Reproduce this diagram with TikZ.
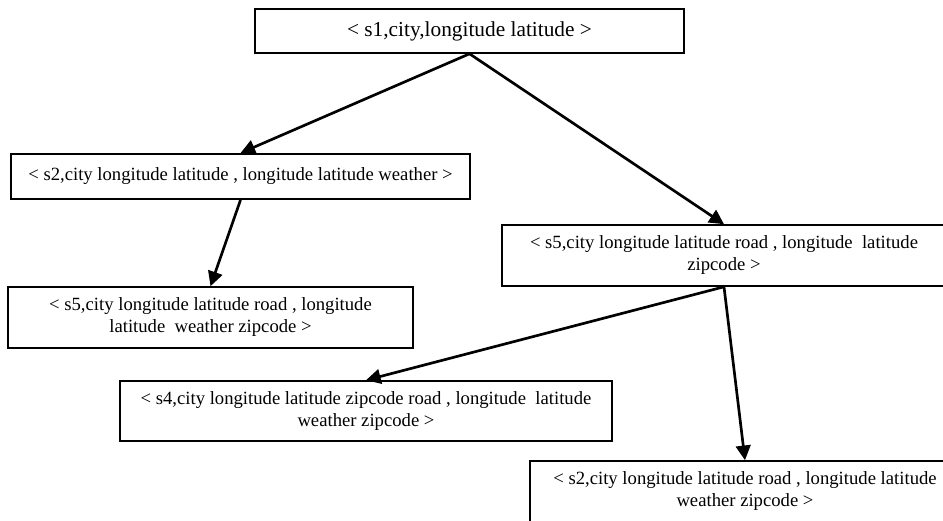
\documentclass[tikz,border=0pt]{standalone}
\usepackage{fontspec}
\setmainfont{Liberation Serif}
\usetikzlibrary{arrows.meta}

\begin{document}
\begin{tikzpicture}[x=0.75pt,y=-0.75pt,->,>={Triangle[length=11pt,width=11pt]},line width=2pt,
            box/.style={draw,line width=1.2pt,rectangle,align=center,font=\fontsize{14}{16.5}\selectfont,inner sep=0pt}]
            \useasboundingbox (0,0) rectangle (943,521);
            \clip (0,0) rectangle (943,521);

            \node[box, minimum width=321.75pt, minimum height=33pt, font=\fontsize{16}{18}\selectfont] (0) at (469.5,31) {< s1,city,longitude latitude >};
            \node[box, minimum width=344pt, minimum height=34pt] (1) at (240.5,176.5) {< s2,city longitude latitude , longitude latitude weather >};
            \node[box, minimum width=333pt, minimum height=45.75pt] (2) at (724,255.5) {< s5,city longitude latitude road , longitude\ \ latitude\\zipcode >};
            \node[box, minimum width=303.75pt, minimum height=45.75pt] (3) at (210.5,317.5) {< s5,city longitude latitude road , longitude\\latitude\ \ weather zipcode >};
            \node[box, minimum width=369pt, minimum height=45pt] (4) at (366,411) {< s4,city longitude latitude zipcode road , longitude\ \ latitude\\weather zipcode >};
            \node[box, minimum width=322.5pt, minimum height=45.75pt] (5) at (745,491.5) {< s2,city longitude latitude road , longitude latitude\\weather zipcode >};

            \path
            (0.south) edge (1.north)
                      edge (2.north)
            (1.south) edge (3.north)
            (2.south) edge (4.north)
                      edge (5.north)
            ;
        \end{tikzpicture}
\end{document}
